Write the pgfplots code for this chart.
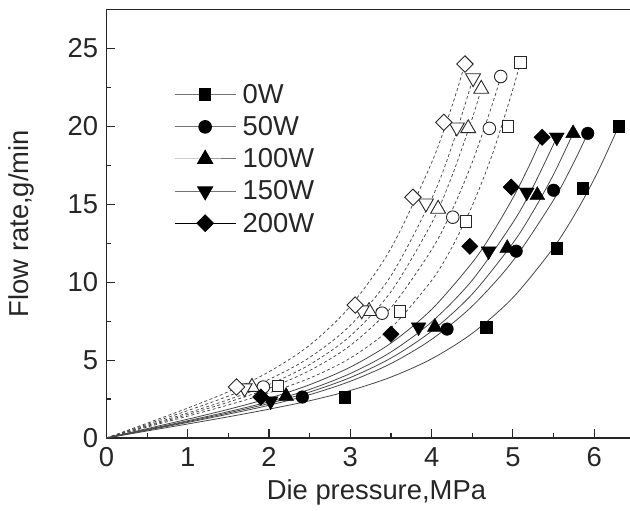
\documentclass[border=0pt]{standalone}
\usepackage{fontspec}
\setmainfont{Liberation Sans}
\usepackage{pgfplots}
\pgfplotsset{compat=1.18}
\newcommand{\bigfont}{\fontsize{27.5}{32}\selectfont}
\pgfplotsset{
  solidc/.style={black!72, line width=0.8bp, smooth, no markers, forget plot},
  dashc/.style={black!72, line width=0.75bp, dash pattern=on 3bp off 2.5bp, smooth, no markers, forget plot},
  fmk/.style={only marks, forget plot},
}
\tikzset{
  fm/.style={solid, fill=black, draw=black},
  om/.style={solid, fill=white, draw=black!85, line width=0.9bp},
}
\begin{document}
\begin{tikzpicture}
\begin{axis}[
  at={(0,0)}, anchor=south west,
  scale only axis,
  width=528.5bp, height=428.5bp,
  xmin=0, xmax=6.5, ymin=0, ymax=27.5,
  xtick={0,1,2,3,4,5,6}, ytick={0,5,10,15,20,25},
  minor x tick num=1, minor y tick num=1,
  tick align=inside, tick pos=left,
  major tick length=9bp, minor tick length=5bp,
  axis line style={line width=1.4bp, black!85},
  every tick/.append style={line width=1.1bp, black!85},
  /pgf/number format/assume math mode=true,
  tick label style={font=\bigfont, text=black!85},
  xticklabel style={anchor=north, inner sep=0pt, yshift=-9bp},
  yticklabel style={anchor=east, inner sep=0pt, xshift=-8bp},
  xlabel={Die pressure,MPa}, ylabel={Flow rate,g/min},
  label style={font=\bigfont, text=black!85},
  xlabel style={at={(axis description cs:0.511,-0.128)}, anchor=center},
  ylabel style={at={(axis description cs:-0.16,0.5)}, anchor=center},
  legend image code/.code={\draw[mark repeat=2,mark phase=2,#1] plot coordinates {(0bp,0bp) (30.5bp,0bp) (61bp,0bp)};},
  legend style={draw=none, fill=none, at={(axis cs:0.831,22.80)}, anchor=north west,
    inner sep=0pt, row sep=8.5bp, font=\bigfont, text=black!85,
    nodes={inner sep=1.5bp}},
  legend cell align=left,
  /tikz/every odd column/.append style={column sep=5bp},
]
% ---------- fitted curves (solid: filled symbols) ----------
\addplot[solidc] coordinates {(0,0) (0.5,0.45) (1,0.90) (1.5,1.36) (2,1.85) (2.5,2.39) (3,3.05) (3.5,3.91) (4,5.08) (4.5,6.72) (5,9.01) (5.5,12.22) (5.8,14.70) (6.05,17.15) (6.3,20.0)};
\addplot[solidc] coordinates {(0,0) (0.5,0.50) (1,1.00) (1.5,1.53) (2,2.10) (2.5,2.78) (3,3.64) (3.5,4.78) (4,6.33) (4.5,8.47) (5,11.37) (5.5,15.28) (5.75,17.70) (5.92,19.55)};
\addplot[solidc] coordinates {(0,0) (0.5,0.525) (1,1.055) (1.5,1.61) (2,2.22) (2.5,2.95) (3,3.88) (3.5,5.13) (4,6.86) (4.5,9.24) (5,12.51) (5.25,14.56) (5.5,16.92) (5.74,19.55)};
\addplot[solidc] coordinates {(0,0) (0.5,0.55) (1,1.106) (1.5,1.69) (2,2.33) (2.5,3.12) (3,4.14) (3.5,5.52) (4,7.45) (4.5,10.13) (5,13.83) (5.25,16.15) (5.54,19.3)};
\addplot[solidc] coordinates {(0,0) (0.5,0.60) (1,1.207) (1.5,1.84) (2,2.55) (2.5,3.42) (3,4.55) (3.5,6.09) (4,8.25) (4.5,11.26) (4.75,13.18) (5,15.41) (5.2,17.47) (5.36,19.3)};
% ---------- fitted curves (dashed: open symbols) ----------
\addplot[dashc] coordinates {(0,0) (0.5,0.70) (1,1.40) (1.5,2.12) (2,2.90) (2.5,3.84) (3,5.13) (3.5,7.06) (4,10.11) (4.25,12.24) (4.5,14.92) (4.75,18.25) (5,22.39) (5.09,24.1)};
\addplot[dashc] coordinates {(0,0) (0.5,0.75) (1,1.506) (1.5,2.30) (2,3.19) (2.5,4.33) (3,5.94) (3.5,8.37) (4,12.08) (4.25,14.60) (4.5,17.70) (4.75,21.47) (4.85,23.2)};
\addplot[dashc] coordinates {(0,0) (0.5,0.80) (1,1.607) (1.5,2.46) (2,3.43) (2.5,4.71) (3,6.55) (3.5,9.39) (4,13.79) (4.25,16.81) (4.5,20.52) (4.61,22.4)};
\addplot[dashc] coordinates {(0,0) (0.5,0.875) (1,1.758) (1.5,2.69) (2,3.76) (2.5,5.17) (3,7.23) (3.5,10.41) (4,15.35) (4.25,18.74) (4.51,23.1)};
\addplot[dashc] coordinates {(0,0) (0.5,0.95) (1,1.92) (1.5,2.97) (2,4.25) (2.5,5.96) (3,8.46) (3.5,12.17) (4,17.67) (4.25,21.30) (4.41,24.0)};
% ---------- open symbols ----------
\addplot[fmk, mark=square*, mark size=5.8bp, mark options={om}] coordinates {(2.11,3.33) (3.61,8.14) (4.42,13.9) (4.94,20.0) (5.09,24.1)};
\addplot[fmk, mark=*, mark size=6.3bp, mark options={om}] coordinates {(1.93,3.27) (3.39,8.01) (4.26,14.17) (4.71,19.87) (4.85,23.2)};
\addplot[fmk, mark=triangle*, mark size=8.6bp, mark options={om}] coordinates {(1.79,3.27) (3.23,8.14) (4.08,14.7) (4.45,19.87) (4.61,22.4)};
\addplot[fmk, mark=triangle*, mark size=8.6bp, mark options={om, rotate=180}] coordinates {(1.70,3.2) (3.14,8.2) (3.93,15.06) (4.31,19.94) (4.51,23.1)};
\addplot[fmk, mark=square*, mark size=5.8bp, mark options={om, rotate=45}] coordinates {(1.60,3.27) (3.06,8.53) (3.77,15.45) (4.15,20.26) (4.41,24.0)};
% ---------- filled symbols ----------
\addplot[fmk, mark=square*, mark size=5.8bp, mark options={fm}] coordinates {(2.93,2.63) (4.67,7.12) (5.54,12.18) (5.86,16.03) (6.30,20.0)};
\addplot[fmk, mark=*, mark size=6.3bp, mark options={fm}] coordinates {(2.41,2.63) (4.19,6.99) (5.04,11.99) (5.50,15.9) (5.92,19.55)};
\addplot[fmk, mark=triangle*, mark size=8.6bp, mark options={fm}] coordinates {(2.21,2.69) (4.04,7.12) (4.93,12.18) (5.30,15.58) (5.74,19.55)};
\addplot[fmk, mark=triangle*, mark size=8.6bp, mark options={fm, rotate=180}] coordinates {(2.02,2.37) (3.84,7.12) (4.70,11.99) (5.17,15.77) (5.54,19.3)};
\addplot[fmk, mark=square*, mark size=5.8bp, mark options={fm, rotate=45}] coordinates {(1.90,2.63) (3.50,6.67) (4.47,12.3) (4.98,16.1) (5.36,19.3)};
% ---------- legend ----------
\addlegendimage{black!55, line width=1bp, mark=square*, mark size=5.8bp, mark options={fm}}
\addlegendentry{0W}
\addlegendimage{black!55, line width=1bp, mark=*, mark size=6.3bp, mark options={fm}}
\addlegendentry{50W}
\addlegendimage{black!55, line width=1bp, mark=triangle*, mark size=8.6bp, mark options={fm}}
\addlegendentry{100W}
\addlegendimage{black!55, line width=1bp, mark=triangle*, mark size=8.6bp, mark options={fm, rotate=180}}
\addlegendentry{150W}
\addlegendimage{black, line width=1bp, mark=square*, mark size=5.8bp, mark options={fm, rotate=45}}
\addlegendentry{200W}
\end{axis}
\pgfresetboundingbox
\useasboundingbox (-106.4bp,-73bp) rectangle (523.6bp,438bp);
\end{tikzpicture}
\end{document}
